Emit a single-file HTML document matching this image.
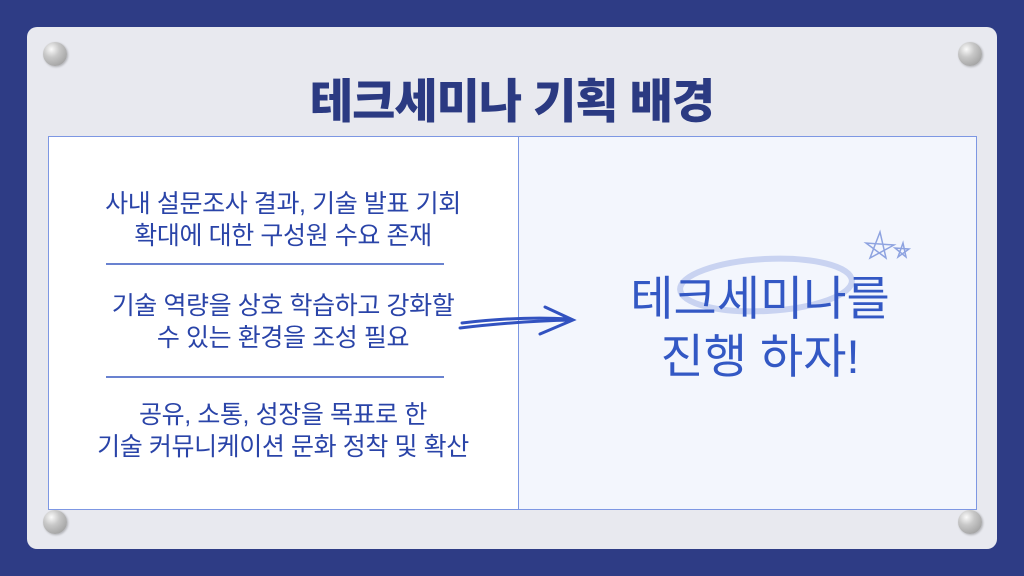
<!DOCTYPE html>
<html><head><meta charset="utf-8"><style>
body{margin:0;width:1024px;height:576px;background:#2e3c85;position:relative;overflow:hidden;font-family:"Liberation Sans","Noto Sans CJK KR",sans-serif}
.panel{position:absolute;left:27px;top:27px;width:970px;height:522px;background:#e8e9ef;border-radius:10px}
.pin{position:absolute;width:24px;height:24px;border-radius:50%;background:radial-gradient(circle at 35% 30%,#fafafa 0%,#c8c8c8 35%,#9a9a9a 90%);box-shadow:1px 1px 2px rgba(0,0,0,.25)}
.title{position:absolute;left:0;width:1024px;top:63px;text-align:center;font-size:47px;font-weight:900;color:#2b3a82;letter-spacing:-1px}
.box{position:absolute;left:48px;top:136px;width:927px;height:372px;border:1px solid #7d97e3;background:#fff}
.right{position:absolute;left:518px;top:136px;width:457px;height:372px;border:1px solid #7d97e3;background:#f3f6fd}
.t{position:absolute;left:38px;width:490px;text-align:center;font-size:25px;line-height:32px;color:#2a44a8;letter-spacing:-0.4px}
.hr{position:absolute;left:106px;width:338px;height:2px;background:#4463c4;opacity:.8}
.big{position:absolute;left:500px;width:520px;text-align:center;font-size:47px;line-height:58px;color:#3358c4}
</style></head><body>
<div class="panel"></div>
<div class="pin" style="left:43px;top:42px"></div>
<div class="pin" style="left:958px;top:42px"></div>
<div class="pin" style="left:43px;top:510px"></div>
<div class="pin" style="left:958px;top:510px"></div>
<div class="title">테크세미나 기획 배경</div>
<div class="box"></div>
<div class="right"></div>
<div class="t" style="top:188px">사내 설문조사 결과, 기술 발표 기회<br>확대에 대한 구성원 수요 존재</div>
<div class="hr" style="top:263px"></div>
<div class="t" style="top:290px">기술 역량을 상호 학습하고 강화할<br>수 있는 환경을 조성 필요</div>
<div class="hr" style="top:376px"></div>
<div class="t" style="top:399px">공유, 소통, 성장을 목표로 한<br>기술 커뮤니케이션 문화 정착 및 확산</div>
<svg style="position:absolute;left:0;top:0" width="1024" height="576">
<ellipse cx="766" cy="285" rx="86" ry="26" transform="rotate(-3 766 285)" fill="none" stroke="#c9d3f1" stroke-width="6"/>
<path d="M460 328 Q520 321 572 320 M462 323 Q520 316 570 319 M545 307 L573 320 L540 334" fill="none" stroke="#3252c0" stroke-width="3" stroke-linecap="round"/>
<path d="M870 258 L880 232 L886 258 L866 243 L894 245 Z" fill="none" stroke="#8ea3e0" stroke-width="1.5"/>
<path d="M898 257 L903 243 L906 257 L895 248 L909 249 Z" fill="none" stroke="#8ea3e0" stroke-width="1.5"/>
</svg>
<div class="big" style="top:270px">테크세미나를<br>진행 하자!</div>
</body></html>
